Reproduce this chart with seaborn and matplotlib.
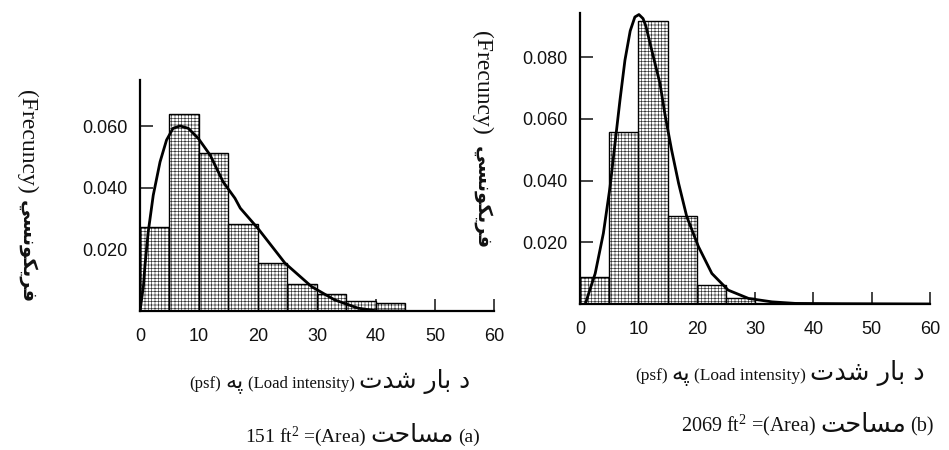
import numpy as np
import pandas as pd
import matplotlib
matplotlib.use("Agg")
import matplotlib.pyplot as plt
from matplotlib.offsetbox import TextArea, HPacker, AnchoredOffsetbox
import seaborn as sns

# ---- histogram data (bin width 5 psf, relative frequency density) ----
bin_edges = [0, 5, 10, 15, 20, 25, 30, 35, 40, 45]
freq_a = [0.0272, 0.0639, 0.0512, 0.0283, 0.0157, 0.0088, 0.0055, 0.0034, 0.0026]
freq_b = [0.0088, 0.0556, 0.0918, 0.0285, 0.0062, 0.0020]

# ---- fitted density curves ----
curve_a_x = [0.0, 0.3, 0.6, 0.85, 1.4, 2.25, 3.4, 4.5, 5.6, 6.8, 8.2, 9.9, 11.9,
             14.1, 16.1, 17.0, 20.0, 24.6, 29.1, 33.0, 37.0, 40.3, 45.0]
curve_a_y = [0.0, 0.0041, 0.0084, 0.0149, 0.0257, 0.0376, 0.0484, 0.0555, 0.0593,
             0.0601, 0.0593, 0.0560, 0.0506, 0.0419, 0.0366, 0.0334, 0.0268,
             0.0155, 0.0079, 0.0036, 0.0009, 0.0, 0.0]

curve_b_x = [0.9, 2.6, 4.0, 5.15, 6.0, 6.85, 7.7, 8.6, 9.4, 10.1, 10.8, 11.3, 12.0,
             13.7, 14.6, 15.7, 16.9, 18.3, 20.3, 22.6, 25.4, 28.9, 32.9, 36.9,
             45.0, 60.0]
curve_b_y = [0.0, 0.0099, 0.0229, 0.0380, 0.0521, 0.0661, 0.0790, 0.0885, 0.0930,
             0.0938, 0.0925, 0.0900, 0.0845, 0.0715, 0.0610, 0.0499, 0.0391,
             0.0283, 0.0186, 0.0099, 0.0045, 0.0018, 0.0007, 0.0002, 0.0001, 0.0]

# ---- axis ticks ----
x_ticks = [0, 10, 20, 30, 40, 50, 60]
y_ticks_a = [0.020, 0.040, 0.060]
y_ticks_b = [0.020, 0.040, 0.060, 0.080]

# ---- minimal Arabic-script shaping (presentation forms, visual order) ----
FORMS = {
    'ا': ('\uFE8D', '\uFE8E'),
    'ب': ('\uFE8F', '\uFE90', '\uFE91', '\uFE92'),
    'ت': ('\uFE95', '\uFE96', '\uFE97', '\uFE98'),
    'ح': ('\uFEA1', '\uFEA2', '\uFEA3', '\uFEA4'),
    'د': ('\uFEA9', '\uFEAA'),
    'ر': ('\uFEAD', '\uFEAE'),
    'س': ('\uFEB1', '\uFEB2', '\uFEB3', '\uFEB4'),
    'ش': ('\uFEB5', '\uFEB6', '\uFEB7', '\uFEB8'),
    'ف': ('\uFED1', '\uFED2', '\uFED3', '\uFED4'),
    'م': ('\uFEE1', '\uFEE2', '\uFEE3', '\uFEE4'),
    'ن': ('\uFEE5', '\uFEE6', '\uFEE7', '\uFEE8'),
    'ه': ('\uFEE9', '\uFEEA', '\uFEEB', '\uFEEC'),
    'و': ('\uFEED', '\uFEEE'),
    'ي': ('\uFEF1', '\uFEF2', '\uFEF3', '\uFEF4'),
    'پ': ('\uFB56', '\uFB57', '\uFB58', '\uFB59'),
    'ک': ('\uFB8E', '\uFB8F', '\uFB90', '\uFB91'),
    'ی': ('\uFBFC', '\uFBFD', '\uFBFE', '\uFBFF'),
}


def rtl(text):
    out = []
    for i, ch in enumerate(text):
        if ch not in FORMS:
            out.append(ch)
            continue
        prev = text[i - 1] if i > 0 else ''
        nxt = text[i + 1] if i + 1 < len(text) else ''
        join_prev = prev in FORMS and len(FORMS[prev]) == 4
        join_next = len(FORMS[ch]) == 4 and nxt in FORMS
        f = FORMS[ch]
        if join_prev and join_next:
            out.append(f[3])
        elif join_prev:
            out.append(f[1])
        elif join_next:
            out.append(f[2])
        else:
            out.append(f[0])
    return ''.join(reversed(out))


sns.set_style("ticks")
plt.rcParams['hatch.linewidth'] = 0.45
plt.rcParams['font.family'] = ['Liberation Sans', 'DejaVu Sans']
plt.rcParams['mathtext.fontset'] = 'custom'
plt.rcParams['mathtext.rm'] = 'Liberation Serif'
plt.rcParams['mathtext.it'] = 'Liberation Serif:italic'

fig = plt.figure(figsize=(9.49, 4.5), dpi=100)
ax_a = fig.add_axes([0.1475, 0.3089, 0.373, 0.5133])
ax_b = fig.add_axes([0.6112, 0.3244, 0.3688, 0.6467])


def draw_panel(ax, freqs, cx, cy, yticks, ytop, xpad):
    edges = bin_edges[:len(freqs) + 1]
    centers = [(edges[i] + edges[i + 1]) / 2 for i in range(len(freqs))]
    df = pd.DataFrame({"load": centers, "density": freqs})
    # stippled fill
    sns.histplot(data=df, x="load", weights="density", bins=edges, stat="count",
                 ax=ax, facecolor="white", edgecolor="#2e2e2e", linewidth=0,
                 hatch="+++++", alpha=1)
    # bar outlines
    sns.histplot(data=df, x="load", weights="density", bins=edges, stat="count",
                 ax=ax, fill=False, color="black", linewidth=1.0)
    sns.lineplot(x=cx, y=cy, ax=ax, color="black", linewidth=2.0,
                 sort=False, estimator=None)
    ax.set_xlim(0, 60)
    ax.set_ylim(0, ytop)
    ax.set_xticks(x_ticks)
    ax.set_xticklabels([str(t) for t in x_ticks])
    ax.set_yticks(yticks)
    ax.set_yticklabels([f"{t:.3f}" for t in yticks])
    ax.set_xlabel("")
    ax.set_ylabel("")
    ax.tick_params(axis="both", direction="in", length=9, width=1.1,
                   labelsize=13, colors="#111111")
    ax.tick_params(axis="y", pad=9)
    ax.tick_params(axis="x", pad=xpad)
    for s in ("left", "bottom"):
        ax.spines[s].set_linewidth(1.6)
        ax.spines[s].set_color("black")
    sns.despine(ax=ax)


draw_panel(ax_a, freq_a, curve_a_x, curve_a_y, y_ticks_a, 0.075, 12)
draw_panel(ax_b, freq_b, curve_b_x, curve_b_y, y_ticks_b, 0.0943, 12)

SERIF = ['Liberation Serif', 'DejaVu Sans']
ARAB = ['DejaVu Sans']


def line_of_text(pieces, x, y):
    """pieces: list of (text, family, size, weight) laid out left to right."""
    boxes = [TextArea(t, textprops=dict(family=fam, fontsize=sz, fontweight=w,
                                        color="#111111"))
             for t, fam, sz, w in pieces]
    pack = HPacker(children=boxes, align="baseline", pad=0, sep=3)
    anchored = AnchoredOffsetbox(loc="center", child=pack, pad=0, borderpad=0,
                                 frameon=False, bbox_to_anchor=(x, y),
                                 bbox_transform=fig.transFigure)
    fig.add_artist(anchored)


# y-axis titles
for (x, y_lat, y_ar) in [(0.0285, 0.6845, 0.4411), (0.508, 0.8156, 0.5600)]:
    fig.text(x, y_lat, "(Frecuncy)", rotation=270, ha="center", va="center",
             fontsize=17, family=SERIF, color="#111111")
    fig.text(x, y_ar, rtl("فریکونسي"), rotation=270, ha="center", va="center",
             fontsize=14, family=ARAB, fontweight="bold", color="#111111")

# x-axis titles
for (x, y, s) in [(0.3477, 0.1533, 12), (0.8219, 0.1711, 12.5)]:
    line_of_text([("(psf)", SERIF, s, "normal"),
                  (rtl("په"), ARAB, s + 4, "normal"),
                  ("(Load intensity)", SERIF, s, "normal"),
                  (rtl("د بار شدت"), ARAB, s + 6, "normal")], x, y)

# panel captions
line_of_text([("151 ft$^2$ =(Area)", SERIF, 14, "normal"),
              (rtl("مساحت"), ARAB, 18, "normal"),
              ("(a)", SERIF, 14, "normal")], 0.3815, 0.0311)
line_of_text([("2069 ft$^2$ =(Area)", SERIF, 14.5, "normal"),
              (rtl("مساحت"), ARAB, 18.5, "normal"),
              ("(b)", SERIF, 14.5, "normal")], 0.8504, 0.0556)

fig.savefig("out.png", dpi=100)
